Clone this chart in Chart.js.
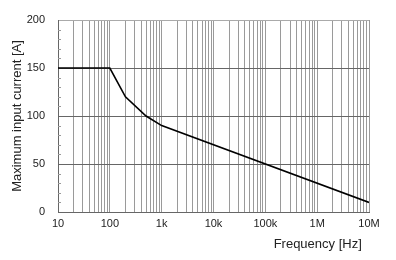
<!DOCTYPE html>
<html>
<head>
<meta charset="utf-8">
<script src="https://cdn.jsdelivr.net/npm/chart.js@4.4.0/dist/chart.umd.min.js"></script>
<style>
  html, body { margin: 0; padding: 0; background: #fff; }
  #wrap { width: 396px; height: 260px; }
</style>
</head>
<body>
<div id="wrap"><canvas id="currentChart"></canvas></div>
<script>
  // Derating curve: max input current vs frequency
  const freqs = [10, 100, 200, 500, 1000, 10000000];
  const currents = [150, 150, 120, 100, 90, 10];
  const xTickLabels = { 10: "10", 100: "100", 1000: "1k", 10000: "10k", 100000: "100k", 1000000: "1M", 10000000: "10M" };
  const yTicks = [0, 50, 100, 150, 200];
  const yMinorStep = 10;

  // small minor tick marks on the inside of the left axis
  const minorTicks = {
    id: "minorTicks",
    afterDraw(chart) {
      const x = chart.scales.x, y = chart.scales.y, ctx = chart.ctx;
      ctx.save();
      ctx.strokeStyle = "#999";
      ctx.lineWidth = 1;
      for (let v = y.min + yMinorStep; v < y.max; v += yMinorStep) {
        if (yTicks.includes(v)) continue;
        const py = Math.round(y.getPixelForValue(v)) + 0.5;
        ctx.beginPath();
        ctx.moveTo(x.left, py);
        ctx.lineTo(x.left + 3, py);
        ctx.stroke();
      }
      ctx.restore();
    }
  };

  const ctx = document.getElementById("currentChart").getContext("2d");
  const chart = new Chart(ctx, {
    type: "line",
    data: {
      datasets: [
        {
          data: freqs.map((f, i) => ({ x: f, y: currents[i] })),
          borderColor: "#000",
          borderWidth: 1.6,
          pointRadius: 0,
          tension: 0,
          fill: false,
        },
      ],
    },
    options: {
      responsive: true,
      maintainAspectRatio: false,
      animation: false,
      layout: { padding: { top: 20, right: 27, left: 0, bottom: 0 } },
      plugins: {
        legend: { display: false },
        tooltip: { enabled: false },
      },
      scales: {
        x: {
          type: "logarithmic",
          min: 10,
          max: 10000000,
          afterBuildTicks: function (scale) {
            const t = [];
            for (let d = 10; d <= 10000000; d *= 10) {
              for (let m = 1; m < 10; m++) {
                if (d * m <= 10000000) t.push({ value: d * m });
              }
            }
            scale.ticks = t;
          },
          afterFit: function (scale) {
            scale.height = 48;
          },
          grid: {
            color: "#9a9a9a",
            lineWidth: 1,
            drawTicks: false,
          },
          border: { display: true, color: "#666" },
          ticks: {
            autoSkip: false,
            maxRotation: 0,
            padding: 5,
            color: "#222",
            font: { family: "Liberation Sans, Arial, sans-serif", size: 11 },
            callback: function (value) {
              return xTickLabels[value] || "";
            },
          },
          title: {
            display: true,
            text: "Frequency [Hz]  ",
            align: "end",
            color: "#222",
            font: { family: "Liberation Sans, Arial, sans-serif", size: 13 },
            padding: { top: 0, bottom: 8 },
          },
        },
        y: {
          min: 0,
          max: 200,
          afterBuildTicks: function (scale) {
            scale.ticks = yTicks.map((v) => ({ value: v }));
          },
          afterFit: function (scale) {
            scale.width = 58;
          },
          grid: {
            drawTicks: false,
            color: function (c) {
              if (c.tick.value === 0) return "transparent";
              if (c.tick.value === 200) return "#aaa";
              return "#666";
            },
          },
          border: { display: true, color: "#666" },
          ticks: {
            padding: 13,
            color: "#222",
            font: { family: "Liberation Sans, Arial, sans-serif", size: 11 },
          },
          title: {
            display: true,
            text: "Maximum input current [A]",
            color: "#222",
            font: { family: "Liberation Sans, Arial, sans-serif", size: 13 },
            padding: { top: 10, bottom: 0 },
          },
        },
      },
    },
    plugins: [minorTicks],
  });
</script>
</body>
</html>
